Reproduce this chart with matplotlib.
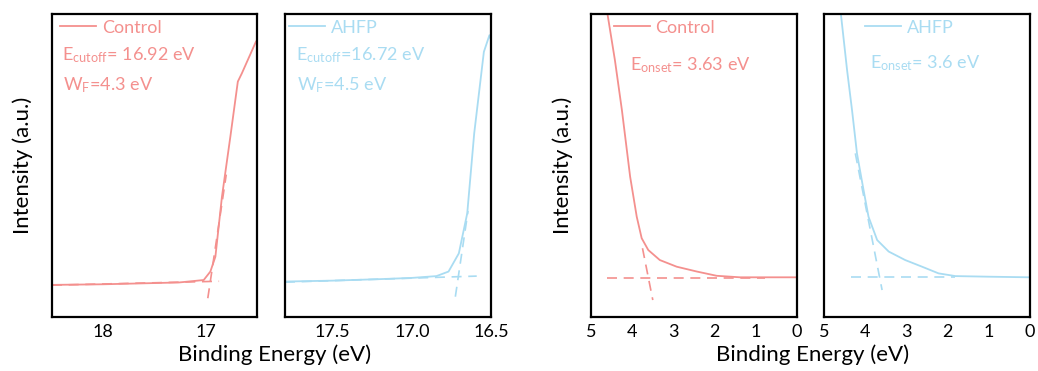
import numpy as np
import matplotlib.pyplot as plt

plt.rcParams['font.family'] = ['Lato', 'DejaVu Sans']
plt.rcParams['mathtext.default'] = 'regular'

RED = '#f4908e'
BLUE = '#a9dcf2'

# secondary electron cutoff (left pair)
ctrl_cut_x = [18.5, 18.0, 17.5, 17.26, 17.02, 16.955, 16.906, 16.842, 16.76, 16.687, 16.648, 16.51]
ctrl_cut_y = [0.106, 0.108, 0.112, 0.114, 0.122, 0.150, 0.199, 0.397, 0.595, 0.777, 0.804, 0.909]
ahfp_cut_x = [17.8, 17.5, 17.2, 17.0, 16.844, 16.768, 16.703, 16.65, 16.606, 16.545, 16.51, 16.5]
ahfp_cut_y = [0.117, 0.120, 0.125, 0.129, 0.135, 0.150, 0.210, 0.342, 0.606, 0.875, 0.930, 0.915]

# valence band onset (right pair)
ctrl_on_x = [4.62, 4.60, 4.42, 4.25, 4.17, 4.05, 3.89, 3.77, 3.61, 3.33, 2.92, 2.43, 1.95, 1.38, 0.0]
ctrl_on_y = [1.03, 1.0, 0.848, 0.683, 0.595, 0.463, 0.331, 0.260, 0.221, 0.188, 0.166, 0.150, 0.136, 0.131, 0.131]
ahfp_on_x = [4.61, 4.59, 4.44, 4.32, 4.20, 4.04, 3.92, 3.71, 3.43, 3.03, 2.62, 2.22, 1.81, 1.00, 0.0]
ahfp_on_y = [1.03, 1.0, 0.815, 0.683, 0.540, 0.419, 0.331, 0.254, 0.216, 0.188, 0.166, 0.144, 0.135, 0.133, 0.131]

# fit lines (baseline, tangent) as [x0, x1], [y0, y1]
ctrl_cut_base = ([18.5, 16.87], [0.105, 0.118])
ctrl_cut_tan = ([16.98, 16.80], [0.062, 0.47])
ahfp_cut_base = ([17.8, 16.59], [0.115, 0.135])
ahfp_cut_tan = ([16.725, 16.645], [0.067, 0.35])
ctrl_on_base = ([4.62, 0.78], [0.130, 0.130])
ctrl_on_tan = ([3.75, 3.50], [0.227, 0.056])
ahfp_on_base = ([4.34, 1.81], [0.133, 0.133])
ahfp_on_tan = ([4.24, 3.59], [0.540, 0.089])

W, H = 1038, 371
fig = plt.figure(figsize=(W / 100, H / 100), dpi=100)

def make_ax(left_px, right_px):
    ax = fig.add_axes([left_px / W, 1 - 317 / H, (right_px - left_px) / W, 303 / H])
    for s in ax.spines.values():
        s.set_linewidth(1.6)
    ax.set_yticks([])
    ax.tick_params(axis='x', length=0, labelsize=13, pad=5)
    ax.set_ylim(0, 1)
    return ax

panels = [
    (52, 257, ctrl_cut_x, ctrl_cut_y, ctrl_cut_base, ctrl_cut_tan, RED, 'Control', (18.5, 16.5), [18, 17], ['18', '17'], 0.06),
    (285, 491, ahfp_cut_x, ahfp_cut_y, ahfp_cut_base, ahfp_cut_tan, BLUE, 'AHFP', (17.8, 16.5), [17.5, 17.0, 16.5], ['17.5', '17.0', '16.5'], 0.04),
    (591, 797, ctrl_on_x, ctrl_on_y, ctrl_on_base, ctrl_on_tan, RED, 'Control', (5, 0), [5, 4, 3, 2, 1, 0], ['5', '4', '3', '2', '1', '0'], 0.13),
    (824, 1030, ahfp_on_x, ahfp_on_y, ahfp_on_base, ahfp_on_tan, BLUE, 'AHFP', (5, 0), [5, 4, 3, 2, 1, 0], ['5', '4', '3', '2', '1', '0'], 0.22),
]

axes = []
for l, r, xs, ys, base, tan, c, lab, xl, ticks, tlabs, lx in panels:
    ax = make_ax(l, r)
    ax.plot(xs, ys, color=c, lw=1.3, label=lab)
    ax.plot(base[0], base[1], color=c, lw=1.2, ls=(0, (6, 4)))
    ax.plot(tan[0], tan[1], color=c, lw=1.2, ls=(0, (6, 4)))
    ax.set_xlim(*xl)
    ax.set_xticks(ticks)
    ax.set_xticklabels(tlabs)
    ax.legend(loc='center left', bbox_to_anchor=(lx - 0.02, 0.955), frameon=False,
              fontsize=13, handlelength=2.0, handletextpad=0.3, labelcolor=c,
              borderpad=0, borderaxespad=0)
    axes.append(ax)

fs = 13
axes[0].text(0.049, 0.865, 'E$_{cutoff}$= 16.92 eV', transform=axes[0].transAxes, color=RED, fontsize=fs, va='center')
axes[0].text(0.054, 0.766, 'W$_F$=4.3 eV', transform=axes[0].transAxes, color=RED, fontsize=fs, va='center')
axes[1].text(0.053, 0.865, 'E$_{cutoff}$=16.72 eV', transform=axes[1].transAxes, color=BLUE, fontsize=fs, va='center')
axes[1].text(0.056, 0.766, 'W$_F$=4.5 eV', transform=axes[1].transAxes, color=BLUE, fontsize=fs, va='center')
axes[2].text(0.189, 0.832, 'E$_{onset}$= 3.63 eV', transform=axes[2].transAxes, color=RED, fontsize=fs, va='center')
axes[3].text(0.223, 0.838, 'E$_{onset}$= 3.6 eV', transform=axes[3].transAxes, color=BLUE, fontsize=fs, va='center')

fig.text(23 / W, 1 - 165 / H, 'Intensity (a.u.)', rotation=90, ha='center', va='center', fontsize=16)
fig.text(563 / W, 1 - 165 / H, 'Intensity (a.u.)', rotation=90, ha='center', va='center', fontsize=16)
fig.text(275 / W, 1 - 355 / H, 'Binding Energy (eV)', ha='center', va='center', fontsize=16)
fig.text(813 / W, 1 - 355 / H, 'Binding Energy (eV)', ha='center', va='center', fontsize=16)

fig.savefig('out.png', dpi=100)
